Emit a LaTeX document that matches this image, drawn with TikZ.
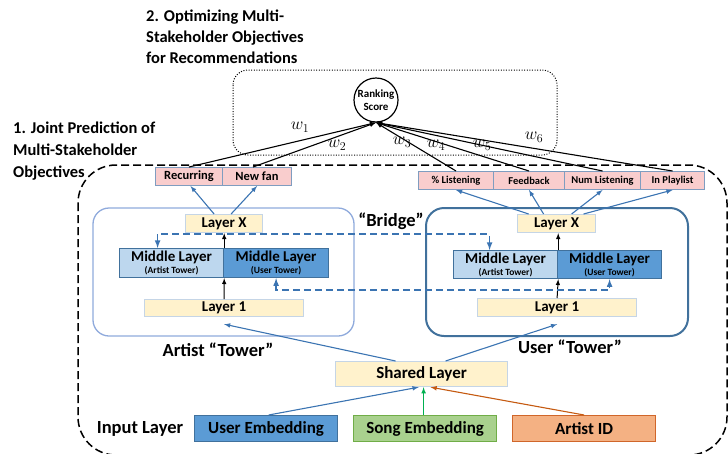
\documentclass[tikz,border=0pt]{standalone}
\usepackage{fontspec}
\setmainfont{Carlito}
\usepackage{amsmath}
\usepackage{tikz}
\usetikzlibrary{arrows, positioning}

\definecolor{pinkfill}{HTML}{F9CDCD}
\definecolor{outline}{HTML}{7F9DC0}
\definecolor{yellowfill}{HTML}{FFF2CC}
\definecolor{layerline}{HTML}{C5D5E6}
\definecolor{lightblue}{HTML}{BDD7EE}
\definecolor{darkblue}{HTML}{5B9BD5}
\definecolor{midline}{HTML}{41719C}
\definecolor{arrowblue}{HTML}{3B74B2}
\definecolor{towerlight}{HTML}{8FAADC}
\definecolor{towerdark}{HTML}{41719C}
\definecolor{songfill}{HTML}{A9D18E}
\definecolor{songline}{HTML}{70AD47}
\definecolor{artistfill}{HTML}{F4B183}
\definecolor{artistline}{HTML}{D0662A}
\definecolor{greenarrow}{HTML}{00B050}
\definecolor{orangearrow}{HTML}{C55A11}

\begin{document}
\begin{tikzpicture}[x=1pt,y=-1pt]
    \tikzstyle{outbox}=[draw=outline, line width=1pt, fill=pinkfill, minimum height=18pt, inner sep=0pt, anchor=north west, font=\fontsize{10.5}{12}\selectfont\bfseries];
    \tikzstyle{layer}=[draw=layerline, line width=1.2pt, fill=yellowfill, minimum height=18pt, inner sep=0pt, anchor=north west, font=\fontsize{15}{16}\selectfont\bfseries];
    \tikzstyle{midbox}=[draw=midline, line width=1.2pt, fill=lightblue, minimum height=29pt, minimum width=104pt, inner sep=0pt, anchor=north west, align=center];
    \tikzstyle{inbox}=[line width=1.2pt, minimum height=26pt, minimum width=143pt, inner sep=0pt, anchor=north west, font=\fontsize{17}{19}\selectfont\bfseries];
    \tikzstyle{bluearrow}=[->, >=latex, draw=arrowblue, line width=1.1pt];
    \tikzstyle{bridge}=[<->, >=latex, draw=arrowblue, line width=1.6pt, dash pattern=on 7pt off 4pt];
    \tikzstyle{heading}=[font=\fontsize{16.5}{21}\selectfont\bfseries, align=left, anchor=north west, inner sep=0pt];
    \tikzstyle{caption}=[font=\fontsize{18.5}{20}\selectfont\bfseries, inner sep=0pt];

    \useasboundingbox (0,0) rectangle (728,453);

    % outer frames
    \draw[line width=1.5pt, dash pattern=on 8pt off 4pt, rounded corners=38pt] (78,165) rectangle (727,455);
    \draw[line width=1pt, dash pattern=on 1pt off 1.6pt, rounded corners=15pt] (233,70) rectangle (557,155);
    \draw[towerlight, line width=1.3pt, rounded corners=16pt] (93,208) rectangle (354,336);
    \draw[towerdark, line width=2pt, rounded corners=18pt] (426,208) rectangle (688,336);

    % headings
    \node[heading] (head2) at (146,10) {2. Optimizing Multi-\\Stakeholder Objectives\\for Recommendations};
    \node[heading, font=\fontsize{16.5}{22}\selectfont\bfseries] (head1) at (13,122) {1. Joint Prediction of\\Multi-Stakeholder\\Objectives};

    \node[draw, line width=1.2pt, circle, minimum size=44pt, inner sep=0pt, align=center, font=\fontsize{11}{13}\selectfont\bfseries] (rs) at (376,100) {Ranking\\Score};

    % objectives
    \node[outbox, minimum width=67pt, font=\fontsize{12.5}{14}\selectfont\bfseries] (rec) at (155,167) {Recurring};
    \node[outbox, minimum width=69pt, font=\fontsize{12.5}{14}\selectfont\bfseries] (nf) at (222,167) {New fan};
    \foreach \name/\x/\w/\txt in {pl/418/75/\% Listening, fb/493/71/Feedback, nl/564/76/Num Listening, ip/640/64/In Playlist} {
        \node[outbox, minimum width=\w pt] (\name) at (\x,171) {\txt};
    }

    % artist tower
    \node[layer, minimum width=77pt] (lx) at (185,214) {Layer X};
    \node[midbox] (lma) at (119,248) {{\fontsize{15}{15}\selectfont\bfseries Middle Layer}\\{\fontsize{9.5}{11.5}\selectfont\bfseries (Artist Tower)}};
    \node[midbox, fill=darkblue, minimum width=105pt] (lmu) at (223,248) {{\fontsize{15}{15}\selectfont\bfseries Middle Layer}\\{\fontsize{9.5}{11.5}\selectfont\bfseries (User Tower)}};
    \node[layer, minimum width=159pt, minimum height=17pt] (la1) at (144,299) {Layer 1};

    % user tower
    \node[layer, minimum width=78pt] (rx) at (517,214) {Layer X};
    \node[midbox, minimum height=28pt] (rma) at (453,250) {{\fontsize{15}{15}\selectfont\bfseries Middle Layer}\\{\fontsize{9.5}{11.5}\selectfont\bfseries (Artist Tower)}};
    \node[midbox, fill=darkblue, minimum height=28pt] (rmu) at (557,250) {{\fontsize{15}{15}\selectfont\bfseries Middle Layer}\\{\fontsize{9.5}{11.5}\selectfont\bfseries (User Tower)}};
    \node[layer, minimum width=159pt] (ra1) at (477,298) {Layer 1};

    \node[caption] (bridgetxt) at (391,221) {``Bridge''};
    \node[caption] (artisttxt) at (218,350) {Artist ``Tower''};
    \node[caption] (usertxt) at (570,347) {User ``Tower''};

    % shared and input layers
    \node[layer, minimum width=172pt, minimum height=25pt, font=\fontsize{17}{19}\selectfont\bfseries] (shared) at (335,361) {Shared Layer};
    \node[caption] (inputtxt) at (140,429) {Input Layer};
    \node[inbox, draw=midline, fill=darkblue] (ue) at (194,415) {User Embedding};
    \node[inbox, draw=songline, fill=songfill] (se) at (353,415) {Song Embedding};
    \node[inbox, draw=artistline, fill=artistfill] (aid) at (512,415) {Artist ID};

    % inputs
    \draw[bluearrow] ([xshift=2.5pt]ue.north) -- ([xshift=-3pt]shared.south);
    \draw[->, >=latex, draw=greenarrow, line width=1.1pt] ([xshift=-1.5pt]se.north) -- ([xshift=-1.5pt]se.north |- shared.south);
    \draw[->, >=latex, draw=orangearrow, line width=1.1pt] (aid.north) -- ([xshift=9pt]shared.south);
    \draw[bluearrow] ([xshift=-26pt]shared.north) -- ([yshift=-7pt]la1.south);
    \draw[bluearrow] ([xshift=24pt]shared.north) -- ([yshift=-7pt]ra1.south);

    % inside towers
    \draw[->, >=latex, line width=1pt] (la1.north) -- (lma.south east);
    \draw[->, >=latex, line width=1pt] (lma.north east) -- (lma.north east |- lx.south);
    \draw[->, >=latex, line width=1pt] (ra1.north) -- (rma.south east);
    \draw[->, >=latex, line width=1pt] (rma.north east) -- (rma.north east |- rx.south);
    \draw[bridge] ([xshift=-14pt]lma.north) -- ++(0,-14) -| ([xshift=-16pt]rma.north);
    \draw[bridge] (lmu.south) -- ++(0,12) -| (rmu.south);

    % towers to objectives
    \draw[bluearrow] ([xshift=-10pt]lx.north) -- ([xshift=1.5pt]rec.south);
    \draw[bluearrow] ([xshift=7pt]lx.north) -- (nf.south);
    \draw[bluearrow] ([xshift=-28pt]rx.north) -- (pl.south);
    \draw[bluearrow] ([xshift=-13pt]rx.north) -- (fb.south);
    \draw[bluearrow] ([xshift=15pt]rx.north) -- (nl.south);
    \draw[bluearrow] ([xshift=27pt]rx.north) -- (ip.south);

    % weights
    \draw[->, >=latex, line width=1.1pt] (rec.north) -- (rs.south);
    \draw[->, >=latex, line width=1.1pt] ([xshift=-4pt]nf.north) -- (rs.south);
    \foreach \src in {pl, fb, nl, ip} {
        \draw[->, >=latex, line width=1.1pt] (\src.north) -- (rs.south);
    }
    \foreach \i/\x/\y in {1/300/127, 2/337/145, 3/402/142, 4/436/145, 5/482/145, 6/534/137} {
        \node[font=\fontsize{17}{19}\selectfont, inner sep=0pt] (w\i) at (\x,\y) {$w_{\i}$};
    }
\end{tikzpicture}
\end{document}
